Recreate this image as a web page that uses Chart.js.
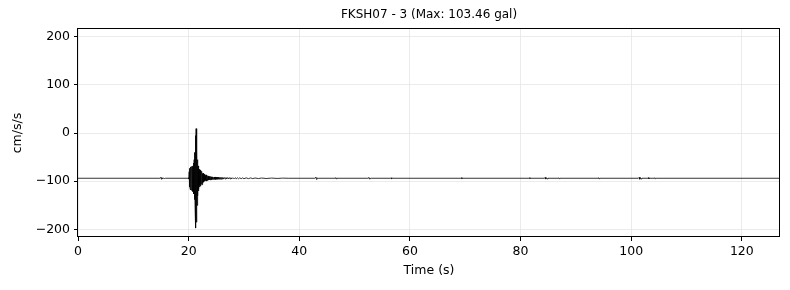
<!DOCTYPE html>
<html>
<head>
<meta charset="utf-8">
<script src="https://cdn.jsdelivr.net/npm/chart.js@4"></script>
<style>
  html, body { margin: 0; padding: 0; background: #fff; }
  #wrap { width: 790px; height: 290px; }
</style>
</head>
<body>
<div id="wrap"><canvas id="wave"></canvas></div>
<script>
const stationTitle = 'FKSH07 - 3 (Max: 103.46 gal)';

// time (s) and acceleration (cm/s/s)
const times = [
  0, 14.8, 14.95, 15.05, 15.15, 15.25, 15.4, 15.6, 15.8,
  19.9, 20.0, 20.05,
  20.10, 20.15, 20.20, 20.25, 20.30, 20.35, 20.40, 20.45, 20.50, 20.55,
  20.60, 20.65, 20.70, 20.75, 20.80, 20.85, 20.90, 20.95, 21.00, 21.05,
  21.10, 21.15, 21.20, 21.25, 21.28, 21.31, 21.35, 21.39, 21.43, 21.47,
  21.51, 21.55, 21.60, 21.65, 21.70, 21.75, 21.80, 21.85, 21.90, 21.95,
  22.00, 22.05, 22.10, 22.15, 22.20, 22.25, 22.30, 22.35, 22.40, 22.45,
  22.50, 22.55, 22.60, 22.65, 22.70, 22.75, 22.80, 22.85, 22.90, 22.95,
  23.00, 23.07, 23.14, 23.21, 23.28, 23.35, 23.42, 23.49, 23.56, 23.63,
  23.70, 23.77, 23.84, 23.91, 23.98, 24.05, 24.12, 24.19, 24.26, 24.33,
  24.40, 24.50, 24.60, 24.70, 24.80, 24.90, 25.00, 25.10, 25.20, 25.30,
  25.40, 25.50, 25.60, 25.70, 25.80, 25.90, 26.00, 26.10, 26.20, 26.30,
  26.45, 26.60, 26.75, 26.90, 27.05, 27.20, 27.35, 27.50, 27.65, 27.80,
  28.00, 28.20, 28.40, 28.60, 28.80, 29.00, 29.25, 29.50, 29.75, 30.00,
  30.40, 30.80, 31.20, 31.60, 32.00, 32.60, 33.20, 34.00, 35.00, 36.00,
  37.00, 38.00,
  42.8, 43.0, 43.1, 43.2, 43.35, 43.5,
  46.5, 46.6, 46.7, 46.8,
  52.4, 52.55, 52.65, 52.75, 52.9, 53.0,
  56.5, 56.6, 56.7, 56.8,
  69.2, 69.3, 69.4, 69.5,
  81.5, 81.6, 81.7, 81.8,
  84.3, 84.45, 84.55, 84.65, 84.8, 84.95,
  86.8, 86.9, 87.0, 87.1,
  94.0, 94.1, 94.2, 94.3,
  101.3, 101.45, 101.55, 101.65, 101.8, 101.95,
  103.0, 103.1, 103.2, 103.3,
  104.2, 104.3, 104.4, 104.5,
  126.9
];
const accel = [
  -94, -94, -92.2, -95.9, -92.4, -95.4, -93.4, -94.6, -94,
  -94, -92.9, -95.4,
  -80.4, -112.4, -73.4, -115.4, -70.4, -118.4, -72.4, -116.4, -69.4, -119.4,
  -74.4, -114.4, -68.4, -121.4, -71.4, -117.4, -62.4, -126.4, -55.4, -138.4,
  -40.4, -150.4, -22.4, -172.4, -5.4, -197.46, 9.1, -185.4, -10.4, -168.4,
  -35.4, -150.4, -55.4, -130.4, -68.4, -120.4, -72.4, -116.4, -75.4, -112.4,
  -78.4, -108.4, -77.4, -110.4, -80.4, -106.4, -82.4, -104.4, -79.4, -107.4,
  -84.4, -103.4, -83.4, -102.4, -86.4, -101.4, -85.4, -100.4, -87.4, -99.4,
  -88.4, -98.6, -87.0, -100.0, -89.0, -98.0, -88.6, -98.4, -90.0, -97.6,
  -90.2, -97.2, -90.6, -97.6, -90.4, -96.8, -91.0, -96.6, -91.2, -96.9,
  -91.4, -96.4, -91.6, -96.2, -91.3, -96.5, -91.8, -96.0, -92.0, -96.2,
  -91.9, -95.9, -92.1, -95.8, -92.3, -95.9, -92.2, -95.6, -92.4, -95.7,
  -92.5, -95.5, -92.4, -95.4, -92.6, -95.5, -92.7, -95.3, -92.8, -95.2,
  -92.9, -95.2, -92.9, -95.1, -93.0, -95.0, -93.1, -94.9, -93.2, -94.9,
  -93.2, -94.8, -93.3, -94.7, -93.4, -94.6, -93.5, -94.5, -93.6, -94.4,
  -93.7, -94,
  -94, -91.9, -96.2, -92.7, -94.9, -94,
  -94, -92.8, -95.2, -94,
  -94, -92.6, -95.5, -93.0, -94.9, -94,
  -94, -93.0, -95.0, -94,
  -94, -92.9, -95.1, -94,
  -94, -93.0, -95.0, -94,
  -94, -92.4, -95.7, -92.8, -95.3, -94,
  -94, -93.1, -94.9, -94,
  -94, -92.9, -95.1, -94,
  -94, -92.2, -96.0, -92.6, -95.5, -94,
  -94, -92.7, -95.3, -94,
  -94, -93.0, -95.0, -94,
  -94
];

const xTicks = [0, 20, 40, 60, 80, 100, 120];
const yTicks = [-200, -100, 0, 100, 200];
const xMax = 126.9;
const yLim = 216;

const font = { family: 'DejaVu Sans', size: 12.5 };
const gridColor = '#e6e6e6';

// title centred over the plot area and a box round it, matplotlib style
const frame = {
    id: 'frame',
    afterDraw(chart) {
        const { ctx, chartArea: a } = chart;
        ctx.save();
        ctx.fillStyle = '#000';
        ctx.font = '12px "DejaVu Sans"';
        ctx.textAlign = 'center';
        ctx.textBaseline = 'middle';
        ctx.fillText(stationTitle, (a.left + a.right) / 2, 15);

        const l = Math.round(a.left) - 0.5, r = Math.round(a.right) - 0.5;
        const t = Math.round(a.top) - 0.5, b = Math.round(a.bottom) - 0.5;
        ctx.strokeStyle = '#000';
        ctx.lineWidth = 1;
        ctx.strokeRect(l, t, r - l, b - t);
        ctx.restore();
    }
};

new Chart(document.getElementById('wave'), {
    type: 'line',
    data: {
        datasets: [{
            data: times.map((t, i) => ({ x: t, y: accel[i] })),
            borderColor: '#000',
            borderWidth: 0.8,
            pointRadius: 0,
            tension: 0,
            fill: false
        }]
    },
    options: {
        responsive: true,
        maintainAspectRatio: false,
        animation: false,
        events: [],
        layout: { padding: { left: 0, right: 10, top: 29, bottom: 0 } },
        plugins: {
            legend: { display: false },
            tooltip: { enabled: false },
            title: { display: false }
        },
        scales: {
            x: {
                type: 'linear',
                min: 0,
                max: xMax,
                afterBuildTicks: (s) => { s.ticks = xTicks.map(v => ({ value: v })); },
                afterFit: (s) => { s.height = 53; },
                ticks: { color: '#000', font, padding: 3, maxRotation: 0 },
                grid: { color: gridColor, lineWidth: 0.8, tickColor: '#000', tickLength: 4, tickWidth: 1 },
                border: { display: false },
                title: {
                    display: true,
                    text: 'Time (s)',
                    color: '#000',
                    font,
                    padding: { top: 0, bottom: 12 }
                }
            },
            y: {
                min: -yLim,
                max: yLim,
                afterBuildTicks: (s) => { s.ticks = yTicks.map(v => ({ value: v })); },
                afterFit: (s) => { s.width = 78; },
                ticks: {
                    color: '#000',
                    font,
                    padding: 4,
                    callback: (v) => String(v).replace('-', '\u2212')
                },
                grid: { color: gridColor, lineWidth: 0.8, tickColor: '#000', tickLength: 4, tickWidth: 1 },
                border: { display: false },
                title: {
                    display: true,
                    text: 'cm/s/s',
                    color: '#000',
                    font,
                    padding: { top: 10, bottom: 0 }
                }
            }
        }
    },
    plugins: [frame]
});
</script>
</body>
</html>
